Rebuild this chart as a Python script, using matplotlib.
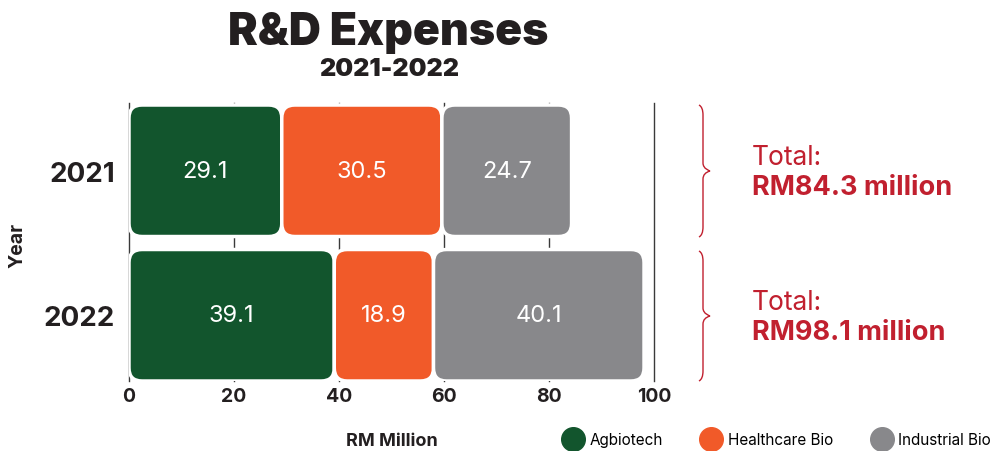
import matplotlib
matplotlib.use("Agg")
import matplotlib.pyplot as plt
from matplotlib.patches import FancyBboxPatch
from matplotlib.lines import Line2D
from matplotlib.path import Path
from matplotlib.patches import PathPatch
import numpy as np

plt.rcParams['font.family'] = ['Inter', 'DejaVu Sans']

years = ["2021", "2022"]
series = ["Agbiotech", "Healthcare Bio", "Industrial Bio"]
agbiotech = [29.1, 39.1]
healthcare = [30.5, 18.9]
industrial = [24.7, 40.1]
totals = ["RM84.3 million", "RM98.1 million"]
xticks = [0, 20, 40, 60, 80, 100]

colors = ["#12552d", "#f15a29", "#88888b"]
red = "#c1202f"
dark = "#231f20"

W, H = 992, 452
fig = plt.figure(figsize=(W / 100, H / 100), dpi=100)
ax = fig.add_axes([129 / W, 1 - 382 / H, 525 / W, 278 / H])

xlim = (0, 100)
ylim = (1.455, -0.469)
ax.set_xlim(*xlim)
ax.set_ylim(*ylim)

for x in xticks:
    ax.axvline(x, color="#3a3a3a", lw=1.0, zorder=0, clip_on=False)

ypos = np.arange(len(years))
bar_h = 0.91
ax_w_px = 525
ax_h_px = 278
px_x = ax_w_px / (xlim[1] - xlim[0])
px_y = ax_h_px / abs(ylim[0] - ylim[1])
radius_px = 13
r_x = radius_px / px_x
aspect = (radius_px / px_y) / r_x

data = [agbiotech, healthcare, industrial]
left = np.zeros(len(years))
for vals, c in zip(data, colors):
    vals = np.array(vals)
    bars = ax.barh(ypos, vals, left=left, height=bar_h, color="none", edgecolor="none")
    for b, v in zip(bars, vals):
        x0, y0 = b.get_x(), b.get_y()
        w, h = b.get_width(), b.get_height()
        p = FancyBboxPatch((x0, y0), w, h,
                           boxstyle=f"round,pad=0,rounding_size={r_x}",
                           mutation_aspect=aspect,
                           facecolor=c, edgecolor="white", linewidth=2.5, zorder=2)
        ax.add_patch(p)
        ax.text(x0 + w / 2, y0 + h / 2, f"{v:.1f}", ha="center", va="center",
                color="white", fontsize=17, zorder=3)
    left = left + vals

ax.set_xticks(xticks)
ax.set_xticklabels([str(x) for x in xticks], fontsize=14, fontweight="bold", color=dark)
ax.set_yticks(ypos)
ax.set_yticklabels(years, fontsize=20, fontweight="bold", color=dark)
ax.tick_params(axis="both", length=0)
ax.tick_params(axis="y", pad=10)
ax.tick_params(axis="x", pad=4)
for s in ax.spines.values():
    s.set_visible(False)

ax.set_xlabel("RM Million", fontsize=13, fontweight="bold", color=dark, labelpad=20)
fig.text(17 / W, 1 - 245 / H, "Year", rotation=90, fontsize=14, fontweight="bold",
         color=dark, ha="center", va="center")

fig.text(388 / W, 1 - 33 / H, "R&D Expenses", fontsize=32, fontweight="black",
         color=dark, ha="center", va="center")
fig.text(389 / W, 1 - 70 / H, "2021-2022", fontsize=18, fontweight="black",
         color=dark, ha="center", va="center")

# braces and totals
over = fig.add_axes([0, 0, 1, 1], facecolor="none")
over.set_xlim(0, W)
over.set_ylim(H, 0)
over.axis("off")


def brace(x, y0, y1, depth=7):
    ym = (y0 + y1) / 2
    verts = [(x - 4, y0), (x, y0 + 2), (x, y0 + 10),
             (x, ym - 8),
             (x, ym - 2), (x + depth, ym), (x + depth, ym),
             (x, ym + 2), (x, ym + 8),
             (x, y1 - 10),
             (x, y1 - 2), (x - 4, y1)]
    codes = [Path.MOVETO, Path.CURVE3, Path.CURVE3,
             Path.LINETO,
             Path.CURVE4, Path.CURVE4, Path.CURVE4,
             Path.CURVE3, Path.CURVE3,
             Path.LINETO,
             Path.CURVE3, Path.CURVE3]
    over.add_patch(PathPatch(Path(verts, codes), facecolor="none", edgecolor=red, lw=1.0))


brace_spans = [(106, 238), (252, 382)]
for (y0, y1), tot in zip(brace_spans, totals):
    brace(703, y0, y1)
    ym = (y0 + y1) / 2
    over.text(752, ym - 14, "Total:", fontsize=19, color=red, ha="left", va="center")
    over.text(752, ym + 16, tot, fontsize=19.5, fontweight="bold", color=red,
              ha="left", va="center")

handles = [Line2D([], [], marker="o", linestyle="none", markersize=17,
                  markerfacecolor=c, markeredgecolor=c) for c in colors]
fig.legend(handles, series, loc="center left", bbox_to_anchor=(564 / W, 1 - 441 / H),
           ncol=3, frameon=False, fontsize=11, handletextpad=0.45, columnspacing=2.6,
           handlelength=1.2, borderpad=0, borderaxespad=0)

fig.savefig("out.png", dpi=100)
